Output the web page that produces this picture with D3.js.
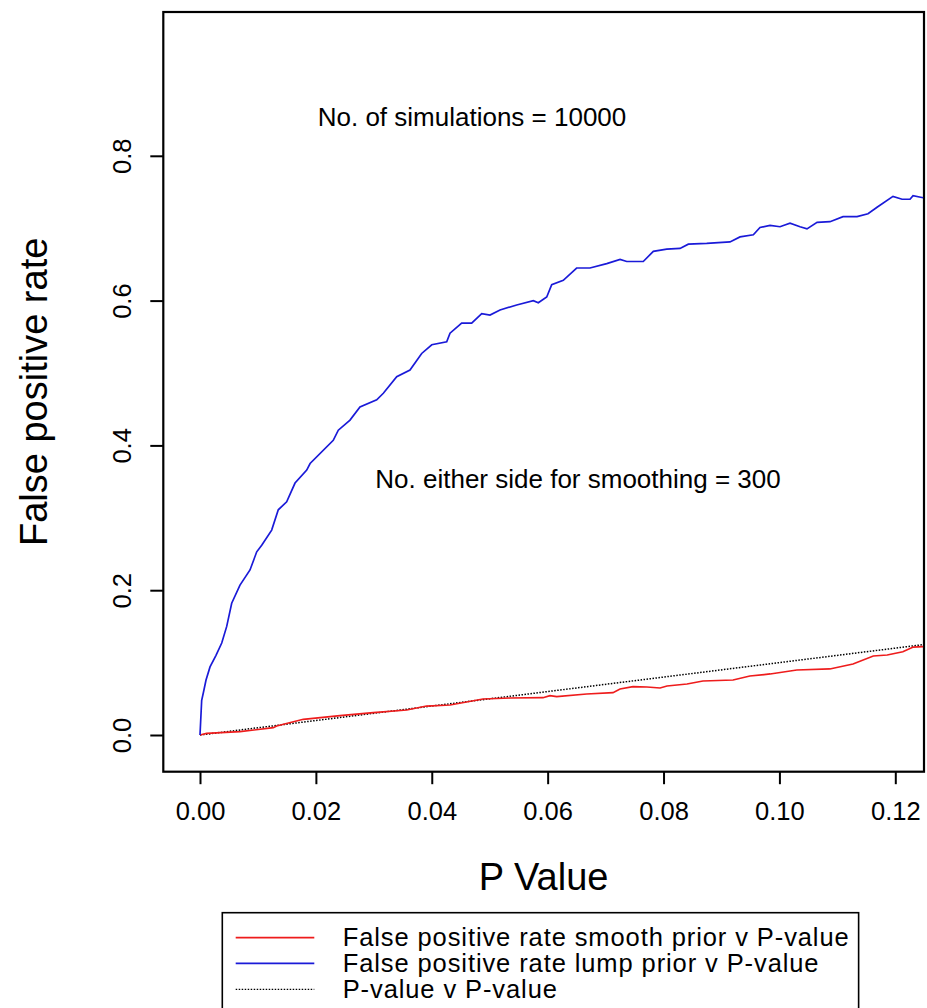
<!DOCTYPE html>
<html>
<head>
<meta charset="utf-8">
<script src="https://cdn.jsdelivr.net/npm/d3@7"></script>
<style>
  body { margin: 0; background: #fff; }
  text { font-family: "Liberation Sans", Arial, sans-serif; fill: #000; }
</style>
</head>
<body>
<div id="chart-area"></div>
<script>
// values
const lumpP   = [0, 0.00029, 0.00057, 0.00104, 0.00173, 0.00276, 0.00375, 0.00461, 0.00547, 0.0069, 0.00863, 0.00979, 0.01065, 0.01237, 0.01351, 0.01496, 0.0164, 0.01842, 0.019, 0.023, 0.02387, 0.02589, 0.02761, 0.0305, 0.03164, 0.03395, 0.03624, 0.03826, 0.04, 0.04258, 0.04315, 0.04516, 0.04689, 0.04862, 0.05005, 0.05178, 0.05466, 0.05753, 0.05839, 0.05984, 0.0607, 0.0627, 0.065, 0.0673, 0.0702, 0.0725, 0.07365, 0.0765, 0.07824, 0.08055, 0.08285, 0.08428, 0.08745, 0.09147, 0.0932, 0.0955, 0.09665, 0.09838, 0.1001, 0.10183, 0.10356, 0.10476, 0.1065, 0.10873, 0.11098, 0.1134, 0.11529, 0.11685, 0.1196, 0.12117, 0.12254, 0.12306, 0.1248]
const lumpFpr = [0, 0.048, 0.058, 0.076, 0.094, 0.110, 0.127, 0.150, 0.182, 0.207, 0.228, 0.253, 0.262, 0.283, 0.311, 0.322, 0.348, 0.366, 0.375, 0.407, 0.421, 0.435, 0.453, 0.463, 0.472, 0.495, 0.504, 0.527, 0.539, 0.543, 0.555, 0.569, 0.569, 0.582, 0.580, 0.587, 0.594, 0.600, 0.597, 0.605, 0.622, 0.628, 0.645, 0.645, 0.651, 0.657, 0.654, 0.654, 0.668, 0.671, 0.672, 0.678, 0.679, 0.681, 0.688, 0.691, 0.701, 0.704, 0.702, 0.707, 0.702, 0.699, 0.708, 0.709, 0.716, 0.716, 0.720, 0.729, 0.744, 0.740, 0.740, 0.745, 0.742]

const smoothP   = [0, 0.00115, 0.0069, 0.01265, 0.01323, 0.01783, 0.02416, 0.0299, 0.03568, 0.0391, 0.04315, 0.04884, 0.0535, 0.0592, 0.0604, 0.06156, 0.06674, 0.07128, 0.07249, 0.07473, 0.07715, 0.0794, 0.0806, 0.08405, 0.0868, 0.092, 0.0949, 0.0984, 0.103, 0.1087, 0.1127, 0.1162, 0.1186, 0.1213, 0.1231, 0.1248]
const smoothFpr = [0, 0.0023, 0.0046, 0.0101, 0.0124, 0.0217, 0.0267, 0.0308, 0.0345, 0.040, 0.0414, 0.0497, 0.0511, 0.0515, 0.0543, 0.0529, 0.0566, 0.0584, 0.0635, 0.0667, 0.0663, 0.0649, 0.0677, 0.0704, 0.0746, 0.076, 0.0815, 0.0843, 0.0898, 0.0912, 0.098, 0.1091, 0.1105, 0.115, 0.1215, 0.122]

const identityP = [0, 0.125]

const xTicks = [0, 0.02, 0.04, 0.06, 0.08, 0.10, 0.12]
const yTicks = [0, 0.2, 0.4, 0.6, 0.8]

const legendLabels = ["False positive rate smooth prior v P-value", "False positive rate lump prior v P-value", "P-value v P-value"]
const legendColors = ["#ee1c1c", "#1a1ad8", "#000"]
const legendDash = [null, null, "1.5,1.5"]

const W = 927, H = 1008
const BOX = { LEFT: 163.3, RIGHT: 924, TOP: 12, BOTTOM: 771.7 }

const svg = d3.select("#chart-area").append("svg")
  .attr("width", W)
  .attr("height", H)

const x = d3.scaleLinear().domain([0, 0.12]).range([200, 895.3])
const y = d3.scaleLinear().domain([0, 0.8]).range([735, 155.8])

svg.append("clipPath").attr("id", "clip")
  .append("rect")
  .attr("x", BOX.LEFT).attr("y", BOX.TOP)
  .attr("width", BOX.RIGHT - BOX.LEFT).attr("height", BOX.BOTTOM - BOX.TOP)

// X axis
const xAxis = svg.append("g")
  .attr("transform", `translate(0, ${BOX.BOTTOM})`)
  .call(d3.axisBottom(x).tickValues(xTicks).tickFormat(d3.format(".2f")).tickSize(12.5).tickSizeOuter(0))
xAxis.select(".domain").remove()
xAxis.selectAll("line").attr("stroke", "#000").attr("stroke-width", 2)
xAxis.selectAll("text")
  .attr("y", 48.3).attr("dy", null)
  .attr("font-size", "25.5px")
  .attr("font-family", "Liberation Sans, Arial, sans-serif")

// Y axis
const yAxis = svg.append("g")
  .attr("transform", `translate(${BOX.LEFT}, 0)`)
  .call(d3.axisLeft(y).tickValues(yTicks).tickFormat(d3.format(".1f")).tickSize(13).tickSizeOuter(0))
yAxis.select(".domain").remove()
yAxis.selectAll("line").attr("stroke", "#000").attr("stroke-width", 2)
yAxis.selectAll("text")
  .attr("x", null).attr("dy", null)
  .attr("transform", "translate(-32, 0) rotate(-90)")
  .attr("text-anchor", "middle")
  .attr("font-size", "25.5px")
  .attr("font-family", "Liberation Sans, Arial, sans-serif")

// plot box
svg.append("rect")
  .attr("x", BOX.LEFT).attr("y", BOX.TOP)
  .attr("width", BOX.RIGHT - BOX.LEFT).attr("height", BOX.BOTTOM - BOX.TOP)
  .attr("fill", "none").attr("stroke", "#000").attr("stroke-width", 2.2)

const line = d3.line().x(d => x(d[0])).y(d => y(d[1]))
const plot = svg.append("g").attr("clip-path", "url(#clip)")

plot.append("path")
  .datum(identityP.map(p => [p, p]))
  .attr("d", line)
  .attr("fill", "none").attr("stroke", "#000").attr("stroke-width", 1.5)
  .attr("stroke-dasharray", "1.5,1.5")

plot.append("path")
  .datum(smoothP.map((p, i) => [p, smoothFpr[i]]))
  .attr("d", line)
  .attr("fill", "none").attr("stroke", legendColors[0]).attr("stroke-width", 1.7)

plot.append("path")
  .datum(lumpP.map((p, i) => [p, lumpFpr[i]]))
  .attr("d", line)
  .attr("fill", "none").attr("stroke", legendColors[1]).attr("stroke-width", 1.7)

// annotations
svg.append("text")
  .attr("x", 472).attr("y", 126)
  .attr("text-anchor", "middle").attr("font-size", "26px")
  .text("No. of simulations = 10000")

svg.append("text")
  .attr("x", 578).attr("y", 488)
  .attr("text-anchor", "middle").attr("font-size", "26px")
  .text("No. either side for smoothing = 300")

// axis titles
svg.append("text")
  .attr("x", (BOX.LEFT + BOX.RIGHT) / 2).attr("y", 890)
  .attr("text-anchor", "middle").attr("font-size", "38px")
  .text("P Value")

svg.append("text")
  .attr("transform", `translate(47, ${(BOX.TOP + BOX.BOTTOM) / 2}) rotate(-90)`)
  .attr("text-anchor", "middle").attr("font-size", "38px")
  .text("False positive rate")

// legend
const legend = svg.append("g")
const legendBox = legend.append("rect")
  .attr("x", 222.3).attr("y", 912.7)
  .attr("height", 110)
  .attr("fill", "#fff").attr("stroke", "#000").attr("stroke-width", 1.6)

const rowY = [937.7, 963.3, 989.3]
let maxRight = 0
legendLabels.forEach((lab, i) => {
  legend.append("line")
    .attr("x1", 235.7).attr("x2", 314.3)
    .attr("y1", rowY[i]).attr("y2", rowY[i])
    .attr("stroke", legendColors[i])
    .attr("stroke-width", legendDash[i] ? 1.3 : 1.8)
    .attr("stroke-dasharray", legendDash[i])
  const t = legend.append("text")
    .attr("x", 342.7).attr("y", rowY[i] + 8.5)
    .attr("font-size", "25.5px")
    .attr("letter-spacing", "0.9px")
    .text(lab)
  const bb = t.node().getBBox()
  maxRight = Math.max(maxRight, bb.x + bb.width)
})
legendBox.attr("width", maxRight + 9 - 222.3)
</script>
</body>
</html>
